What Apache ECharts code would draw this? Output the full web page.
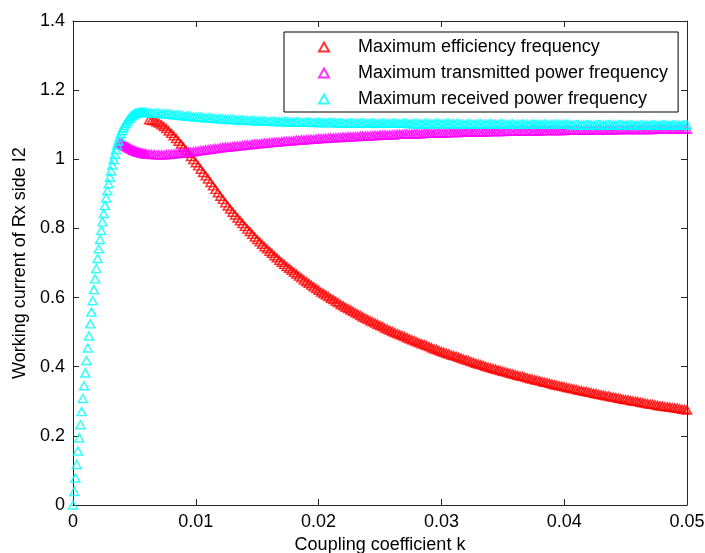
<!DOCTYPE html>
<html>
<head>
<meta charset="utf-8">
<script src="https://cdn.jsdelivr.net/npm/echarts@6/dist/echarts.min.js"></script>
<style>
  html, body { margin: 0; padding: 0; background: #fff; }
  #chart { width: 705px; height: 553px; }
</style>
</head>
<body>
<div id="chart"></div>
<script>
// sampling of the coupling coefficient k: 0.0001 up to k = 0.006, then 0.0002 up to 0.05
const K_FINE_STEP = 0.0001;
const K_FINE_COUNT = 61;
const K_STEP = 0.0002;
const K_COUNT = 220;
const kGrid = [];
for (let i = 0; i < K_FINE_COUNT; i++) kGrid.push(+(i * K_FINE_STEP).toFixed(4));
for (let j = 1; j <= K_COUNT; j++) kGrid.push(+(0.006 + j * K_STEP).toFixed(4));

const seriesNames = [
  'Maximum efficiency frequency',
  'Maximum transmitted power frequency',
  'Maximum received power frequency'
];
const seriesColors = ['#ff0000', '#ff00ff', '#00ffff'];

// I2 at maximum received power frequency, from k = 0
const receivedI2 = [
  0.000,0.039,0.078,0.117,0.156,0.194,0.232,0.270,0.308,0.345,
  0.382,0.418,0.454,0.489,0.524,0.558,0.591,0.623,0.654,0.684,
  0.713,0.741,0.768,0.794,0.819,0.843,0.866,0.888,0.909,0.929,
  0.948,0.966,0.983,0.999,1.014,1.028,1.041,1.053,1.064,1.074,
  1.083,1.091,1.098,1.104,1.110,1.115,1.119,1.123,1.126,1.129,
  1.131,1.133,1.134,1.135,1.136,1.136,1.136,1.136,1.136,1.135,
  1.135,
  1.135,1.134,1.134,1.133,1.133,1.132,1.132,1.131,1.131,1.130,
  1.129,1.128,1.128,1.127,1.126,1.125,1.125,1.124,1.123,1.123,
  1.122,1.122,1.121,1.120,1.120,1.119,1.119,1.118,1.118,1.117,
  1.117,1.116,1.116,1.115,1.115,1.115,1.114,1.114,1.113,1.113,
  1.113,1.112,1.112,1.111,1.111,1.111,1.111,1.110,1.110,1.110,
  1.110,1.109,1.109,1.109,1.109,1.109,1.108,1.108,1.108,1.108,
  1.108,1.108,1.107,1.107,1.107,1.107,1.107,1.107,1.106,1.106,
  1.106,1.106,1.106,1.106,1.106,1.106,1.106,1.105,1.105,1.105,
  1.105,1.105,1.105,1.105,1.105,1.105,1.105,1.105,1.105,1.105,
  1.105,1.104,1.104,1.104,1.104,1.104,1.104,1.104,1.104,1.104,
  1.104,1.104,1.104,1.104,1.104,1.104,1.103,1.103,1.103,1.103,
  1.103,1.103,1.103,1.103,1.103,1.103,1.103,1.103,1.103,1.103,
  1.103,1.103,1.103,1.103,1.103,1.103,1.102,1.102,1.102,1.102,
  1.102,1.102,1.102,1.102,1.102,1.102,1.102,1.102,1.102,1.102,
  1.102,1.102,1.102,1.102,1.102,1.102,1.101,1.101,1.101,1.101,
  1.101,1.101,1.101,1.101,1.101,1.101,1.101,1.101,1.101,1.101,
  1.101,1.101,1.101,1.101,1.101,1.101,1.101,1.101,1.101,1.101,
  1.101,1.101,1.100,1.100,1.100,1.100,1.100,1.100,1.100,1.100,
  1.100,1.100,1.100,1.100,1.100,1.100,1.100,1.100,1.100,1.100,
  1.100,1.100,1.100,1.100,1.100,1.099,1.099,1.099,1.099,1.099,
  1.099,1.099,1.099,1.099,1.099,1.099,1.099,1.099,1.099,1.099,
  1.099,1.099,1.099,1.099,1.099,1.099,1.099,1.099,1.099,1.099
];

// I2 at maximum transmitted power frequency, from k = 0.0038 (below that it lies under the cyan curve)
const transmittedStart = 38;
const transmittedI2 = [
  1.048,1.046,1.044,1.042,1.040,1.038,1.036,1.034,1.032,1.030,
  1.028,1.026,1.025,1.023,1.022,1.021,1.020,1.019,1.018,1.017,
  1.016,1.016,1.015,
  1.015,1.014,1.014,1.013,1.013,1.013,1.013,1.014,1.014,1.015,
  1.016,1.016,1.017,1.018,1.019,1.020,1.021,1.021,1.022,1.023,
  1.024,1.025,1.026,1.027,1.028,1.029,1.030,1.031,1.032,1.033,
  1.034,1.035,1.035,1.036,1.037,1.038,1.039,1.039,1.040,1.041,
  1.042,1.042,1.043,1.044,1.045,1.045,1.046,1.047,1.047,1.048,
  1.049,1.049,1.050,1.050,1.051,1.052,1.052,1.053,1.053,1.054,
  1.055,1.055,1.056,1.056,1.057,1.057,1.058,1.058,1.059,1.060,
  1.060,1.060,1.061,1.061,1.062,1.062,1.063,1.063,1.063,1.064,
  1.064,1.065,1.065,1.065,1.066,1.066,1.067,1.067,1.067,1.068,
  1.068,1.068,1.069,1.069,1.070,1.070,1.070,1.070,1.071,1.071,
  1.071,1.072,1.072,1.072,1.073,1.073,1.073,1.073,1.074,1.074,
  1.074,1.074,1.075,1.075,1.075,1.075,1.075,1.076,1.076,1.076,
  1.076,1.076,1.077,1.077,1.077,1.077,1.077,1.078,1.078,1.078,
  1.078,1.078,1.078,1.079,1.079,1.079,1.079,1.079,1.080,1.080,
  1.080,1.080,1.080,1.080,1.080,1.081,1.081,1.081,1.081,1.081,
  1.081,1.081,1.082,1.082,1.082,1.082,1.082,1.082,1.082,1.082,
  1.083,1.083,1.083,1.083,1.083,1.083,1.083,1.083,1.083,1.083,
  1.084,1.084,1.084,1.084,1.084,1.084,1.084,1.084,1.084,1.084,
  1.084,1.085,1.085,1.085,1.085,1.085,1.085,1.085,1.085,1.085,
  1.085,1.086,1.086,1.086,1.086,1.086,1.086,1.086,1.086,1.086,
  1.086,1.086,1.086,1.086,1.086,1.086,1.087,1.087,1.087,1.087,
  1.087,1.087,1.087,1.087,1.087,1.087,1.087,1.087,1.087,1.087
];

// I2 at maximum efficiency frequency, from k = 0.0062
const efficiencyStart = 61;
const efficiencyI2 = [
  1.114,1.113,1.111,1.108,1.105,1.100,1.095,1.089,1.082,1.075,
  1.068,1.060,1.052,1.044,1.035,1.026,1.017,1.008,0.999,0.990,
  0.981,0.971,0.962,0.952,0.943,0.933,0.923,0.913,0.903,0.893,
  0.884,0.874,0.865,0.856,0.847,0.839,0.830,0.822,0.814,0.806,
  0.798,0.791,0.783,0.775,0.768,0.761,0.754,0.747,0.741,0.734,
  0.728,0.721,0.715,0.708,0.702,0.696,0.690,0.685,0.679,0.673,
  0.668,0.662,0.657,0.651,0.646,0.641,0.636,0.631,0.626,0.621,
  0.616,0.612,0.607,0.603,0.598,0.594,0.589,0.585,0.580,0.576,
  0.572,0.568,0.564,0.560,0.556,0.552,0.548,0.544,0.541,0.537,
  0.533,0.530,0.526,0.523,0.519,0.516,0.512,0.509,0.505,0.502,
  0.499,0.496,0.493,0.490,0.487,0.484,0.481,0.478,0.475,0.472,
  0.469,0.466,0.464,0.461,0.458,0.455,0.452,0.450,0.447,0.444,
  0.442,0.439,0.437,0.434,0.432,0.430,0.427,0.425,0.422,0.420,
  0.418,0.415,0.413,0.410,0.408,0.406,0.404,0.401,0.399,0.397,
  0.395,0.393,0.391,0.389,0.387,0.385,0.383,0.381,0.379,0.377,
  0.375,0.373,0.372,0.370,0.368,0.366,0.364,0.362,0.361,0.359,
  0.357,0.355,0.354,0.352,0.350,0.348,0.347,0.345,0.344,0.342,
  0.340,0.339,0.337,0.336,0.334,0.332,0.331,0.329,0.328,0.326,
  0.325,0.323,0.322,0.320,0.319,0.318,0.316,0.315,0.313,0.312,
  0.311,0.309,0.308,0.306,0.305,0.304,0.302,0.301,0.300,0.299,
  0.297,0.296,0.295,0.293,0.292,0.291,0.290,0.288,0.287,0.286,
  0.285,0.284,0.283,0.282,0.281,0.280,0.279,0.277,0.276,0.275
];

const toPairs = (ys, start) => ys.map((y, i) => [kGrid[start + i], y]);

const FONT = "'Liberation Sans', Arial, Helvetica, sans-serif";
const AXIS_COLOR = '#262626';

const chart = echarts.init(document.getElementById('chart'), null, { renderer: 'canvas' });

const xBase = {
  type: 'value', min: 0, max: 0.05, interval: 0.01,
  axisLine: { show: true, onZero: false, lineStyle: { color: AXIS_COLOR, width: 1 } },
  axisTick: { show: true, inside: true, length: 6, lineStyle: { color: AXIS_COLOR } },
  splitLine: { show: false }
};
const yBase = {
  type: 'value', min: 0, max: 1.4, interval: 0.2,
  axisLine: { show: true, onZero: false, lineStyle: { color: AXIS_COLOR, width: 1 } },
  axisTick: { show: true, inside: true, length: 6, lineStyle: { color: AXIS_COLOR } },
  splitLine: { show: false }
};

const makeSeries = (idx, data) => ({
  name: seriesNames[idx],
  type: 'scatter',
  data: data,
  symbol: 'triangle',
  symbolSize: [9, 8],
  itemStyle: { color: 'rgba(0,0,0,0)', borderColor: seriesColors[idx], borderWidth: 1.5 }
});

chart.setOption({
  animation: false,
  backgroundColor: '#fff',
  textStyle: { fontFamily: FONT },
  grid: { left: 73, right: 18, top: 21, bottom: 48, containLabel: false, outerBoundsMode: 'none' },
  legend: {
    orient: 'vertical',
    left: 284, top: 32,
    padding: [6, 10, 4, 34],
    itemGap: 8,
    itemWidth: 10, itemHeight: 9,
    backgroundColor: '#fff',
    borderColor: '#000', borderWidth: 1,
    textStyle: { fontSize: 18, color: '#000', fontFamily: FONT, padding: [0, 0, 0, 24] },
    data: seriesNames
  },
  xAxis: [
    Object.assign({}, xBase, {
      position: 'bottom',
      name: 'Coupling coefficient k', nameLocation: 'middle', nameGap: 30,
      nameTextStyle: { fontSize: 18, color: '#000', fontFamily: FONT },
      axisLabel: { fontSize: 18, color: '#000', margin: 8, fontFamily: FONT }
    }),
    Object.assign({}, xBase, { position: 'top', axisLabel: { show: false } })
  ],
  yAxis: [
    Object.assign({}, yBase, {
      position: 'left',
      name: 'Working current of Rx side I2', nameLocation: 'middle', nameGap: 38,
      nameTextStyle: { fontSize: 18, color: '#000', fontFamily: FONT },
      axisLabel: { fontSize: 18, color: '#000', margin: 8, fontFamily: FONT }
    }),
    Object.assign({}, yBase, { position: 'right', axisLabel: { show: false } })
  ],
  series: [
    makeSeries(0, toPairs(efficiencyI2, efficiencyStart)),
    makeSeries(1, toPairs(transmittedI2, transmittedStart)),
    makeSeries(2, toPairs(receivedI2, 0))
  ]
});
</script>
</body>
</html>
